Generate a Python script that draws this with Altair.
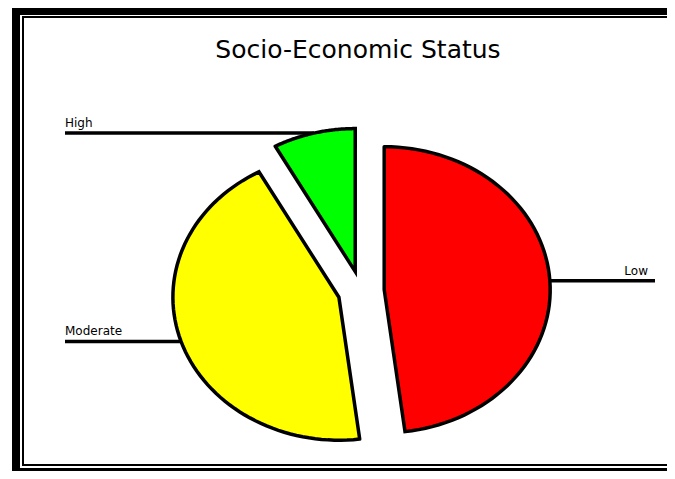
import altair as alt
import pandas as pd

# ---- data ----
categories = ["Low", "Moderate", "High"]
values = [48, 44, 8]
slice_order = [0, 1, 2]
slice_colors = ["#ff0000", "#ffff00", "#00ff00"]
title_text = "Socio-Economic Status"

df = pd.DataFrame({"category": categories, "value": values, "order": slice_order})
dummy = pd.DataFrame({"a": [0]})

# ---- layout (pixels in plot coordinates; page = plot + 8) ----
W, H = 659, 463
CXP, CYP = 353, 283       # pie centre
RX, RY = 166, 143         # pie radii (the original pie is an ellipse)
EXPLODE = 0.14            # explode distance in radius units
NPTS = 72
FONT = "DejaVu Sans"
LEFT_LINE_U = (57 - CXP) / RX
RIGHT_LINE_U = (647 - CXP) / RX
RIGHT_TEXT_U = (640 - CXP) / RX

xscale = alt.Scale(domain=[-CXP / RX, (W - CXP) / RX], nice=False, zero=False)
yscale = alt.Scale(domain=[-(H - CYP) / RY, CYP / RY], nice=False, zero=False)

base = (
    alt.Chart(df)
    .transform_joinaggregate(total="sum(value)")
    .transform_window(cum="sum(value)", sort=[alt.SortField("order")], frame=[None, 0])
    .transform_calculate(t1="2*PI*datum.cum/datum.total")
    .transform_calculate(t0="2*PI*(datum.cum-datum.value)/datum.total")
    .transform_calculate(mid="(datum.t0+datum.t1)/2")
    .transform_calculate(ox=f"{EXPLODE}*sin(datum.mid)")
    .transform_calculate(oy=f"{EXPLODE}*cos(datum.mid)")
)

# outline polygons of the slices: arc points, apex, back to first arc point
poly = (
    base.transform_calculate(k=f"sequence(0, {NPTS + 3})")
    .transform_flatten(["k"])
    .transform_calculate(
        ang=f"datum.k <= {NPTS} ? datum.t0 + datum.k/{NPTS}*(datum.t1-datum.t0) : datum.t0"
    )
    .transform_calculate(
        px=f"datum.k == {NPTS + 1} ? datum.ox : datum.ox + sin(datum.ang)"
    )
    .transform_calculate(
        py=f"datum.k == {NPTS + 1} ? datum.oy : datum.oy + cos(datum.ang)"
    )
)

slices = []
for cat, col in zip(categories, slice_colors):
    slices.append(
        poly.transform_filter(alt.datum.category == cat)
        .mark_line(fill=col, stroke="black", strokeWidth=3.5,
                   strokeJoin="miter", strokeCap="round", interpolate="linear")
        .encode(
            x=alt.X("px:Q", scale=xscale, axis=None),
            y=alt.Y("py:Q", scale=yscale, axis=None),
            order=alt.Order("k:Q"),
        )
    )

edges = (
    base.transform_calculate(ex="datum.ox + sin(datum.mid)")
    .transform_calculate(ey="datum.oy + cos(datum.mid)")
    .transform_calculate(right="sin(datum.mid) > 0")
    .transform_calculate(lx=f"datum.right ? {RIGHT_LINE_U} : {LEFT_LINE_U}")
    .transform_calculate(tx=f"datum.right ? {RIGHT_TEXT_U} : {LEFT_LINE_U}")
)

leaders = edges.mark_rule(stroke="black", strokeWidth=3.5).encode(
    x=alt.X("ex:Q", scale=xscale, axis=None),
    x2="lx:Q",
    y=alt.Y("ey:Q", scale=yscale, axis=None),
)

labels_left = edges.transform_filter("!datum.right").mark_text(
    align="left", baseline="alphabetic", dy=-6, fontSize=12, font=FONT, color="black"
).encode(x=alt.X("tx:Q", scale=xscale, axis=None),
         y=alt.Y("ey:Q", scale=yscale, axis=None), text="category:N")

labels_right = edges.transform_filter("datum.right").mark_text(
    align="right", baseline="alphabetic", dy=-6, fontSize=12, font=FONT, color="black"
).encode(x=alt.X("tx:Q", scale=xscale, axis=None),
         y=alt.Y("ey:Q", scale=yscale, axis=None), text="category:N")

title = alt.Chart(dummy).mark_text(
    align="center", baseline="alphabetic", fontSize=25, font=FONT, color="black"
).encode(x=alt.value(350), y=alt.value(50), text=alt.value(title_text))


def frame_rect(x0, x1, y0, y1):
    return alt.Chart(dummy).mark_rect(color="black").encode(
        x=alt.value(x0), x2=alt.value(x1), y=alt.value(y0), y2=alt.value(y1)
    )


frame = [
    frame_rect(4, W, 0, 7),        # thick top
    frame_rect(4, 12, 0, H),       # thick left
    frame_rect(4, W, 460, H),      # thick bottom
    frame_rect(14, W, 8, 10),      # thin top
    frame_rect(14, 16, 8, 458),    # thin left
    frame_rect(14, W, 456, 458),   # thin bottom
]

chart = alt.layer(*frame, title, leaders, *slices, labels_left, labels_right).properties(
    width=W, height=H, autosize="none", padding=0, background="white"
).configure_view(stroke=None)

chart.save("out.html", embed_options={"renderer": "svg", "actions": False})
